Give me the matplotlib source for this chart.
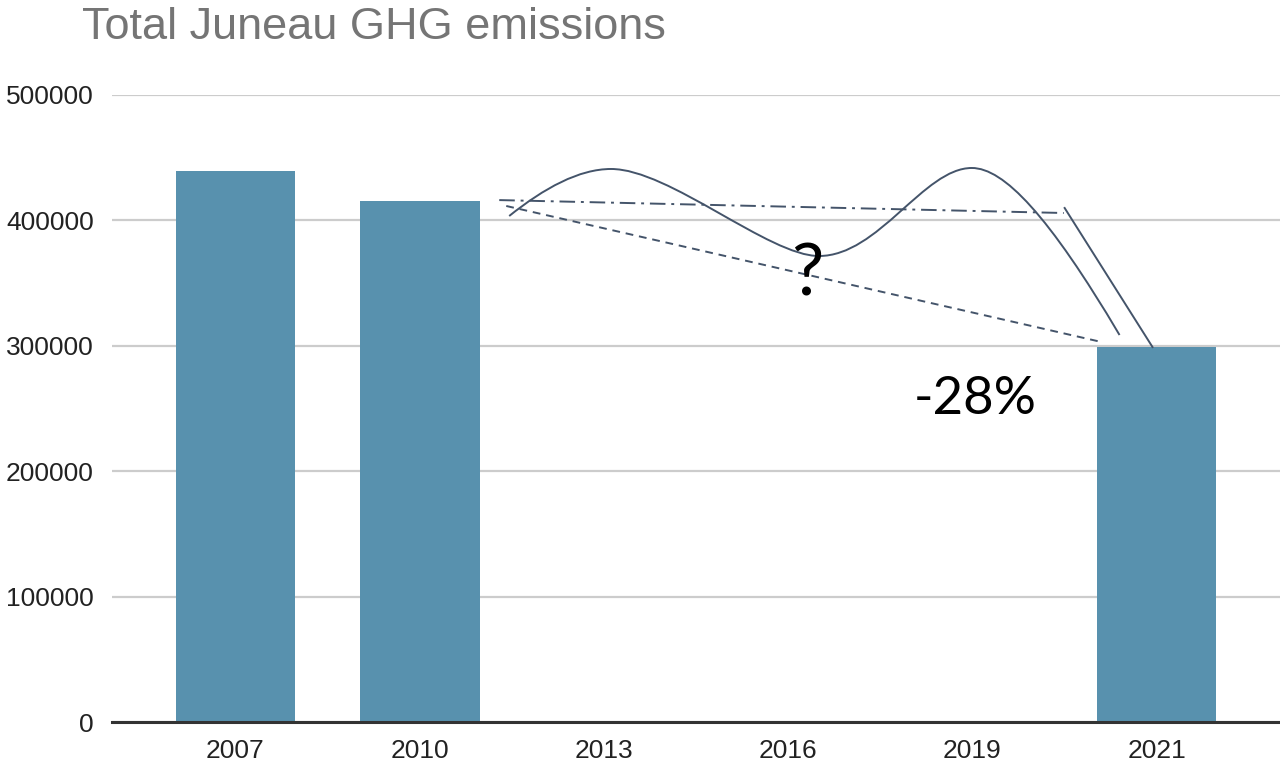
import matplotlib
matplotlib.use("Agg")
import matplotlib.pyplot as plt
from matplotlib.path import Path
from matplotlib.patches import PathPatch

# ── Data ──────────────────────────────────────────────────────────────────── #
years = ["2007", "2010", "2013", "2016", "2019", "2021"]
emissions = [439000, 415500, None, None, None, 299000]
y_ticks = [0, 100000, 200000, 300000, 400000, 500000]

# hand-drawn style annotations (x = category index, y = emissions)
wave_x = [1.486, 1.676, 1.866, 2.039, 2.354, 2.896, 3.167, 3.492, 3.736, 3.997, 4.170, 4.414, 4.799]
wave_y = [403500, 425800, 441000, 441000, 441000, 371600, 371600, 371600, 441800, 441800, 441800, 404300, 308600]
dashdot_x, dashdot_y = [1.432, 4.496], [416200, 405900]
dashed_x, dashed_y = [1.470, 4.702], [411500, 303000]
drop_x, drop_y = [4.501, 4.978], [409900, 299000]

BAR_COLOR = "#5891AE"
LINE_COLOR = "#44546A"
plt.rcParams["font.family"] = ["Liberation Sans", "DejaVu Sans"]

fig = plt.figure(figsize=(12.8, 7.67), dpi=100)
ax = fig.add_axes([112 / 1280, 1 - 722 / 767, 1 - 112 / 1280, (722 - 95) / 767])

xs = [i for i, v in enumerate(emissions) if v is not None]
vals = [v for v in emissions if v is not None]
ax.bar(xs, vals, width=0.65, color=BAR_COLOR, zorder=3)

ax.set_xlim(-0.67, 5.67)
ax.set_ylim(0, 500000)
ax.set_xticks(range(len(years)))
ax.set_xticklabels(years)
ax.set_yticks(y_ticks)
ax.set_yticklabels([str(t) for t in y_ticks])
ax.tick_params(axis="both", length=0, labelsize=19, colors="#222222")
ax.tick_params(axis="y", pad=13)
ax.tick_params(axis="x", pad=12)
ax.grid(axis="y", color="#cccccc", linewidth=1.6, zorder=0)
for s in ["top", "right", "left"]:
    ax.spines[s].set_visible(False)
ax.spines["bottom"].set_color("#333333")
ax.spines["bottom"].set_linewidth(2.2)
ax.spines["bottom"].set_zorder(4)

# wavy "?" curve as cubic bezier
codes = [Path.MOVETO] + [Path.CURVE4] * (len(wave_x) - 1)
wave = PathPatch(Path(list(zip(wave_x, wave_y)), codes), facecolor="none",
                 edgecolor=LINE_COLOR, linewidth=1.4, zorder=5)
ax.add_patch(wave)
ax.plot(dashdot_x, dashdot_y, color=LINE_COLOR, linewidth=1.4,
        dashes=[8, 3, 1.5, 3], zorder=5)
ax.plot(dashed_x, dashed_y, color=LINE_COLOR, linewidth=1.4,
        dashes=[4, 3], zorder=5)
ax.plot(drop_x, drop_y, color=LINE_COLOR, linewidth=1.4, zorder=5)

ax.text(3.102, 356400, "?", fontsize=52, family="Lato", ha="center", va="center", zorder=6)
ax.text(4.018, 256800, "-28%", fontsize=38, family="Lato", ha="center", va="center", zorder=6)

fig.text(82 / 1280, 1 - 7 / 767, "Total Juneau GHG emissions", fontsize=32.5,
         color="#757575", ha="left", va="top")

fig.savefig("out.png", dpi=100)
